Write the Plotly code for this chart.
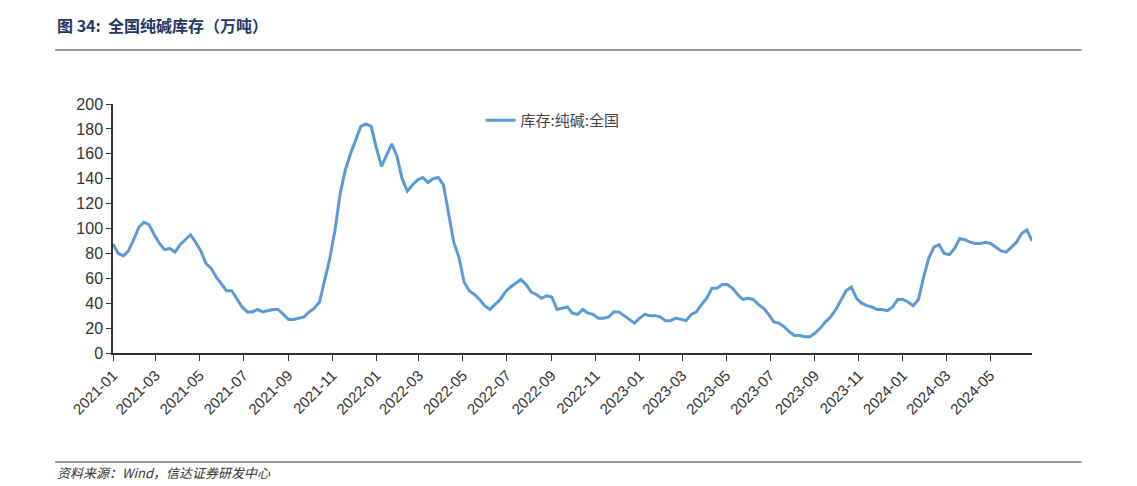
import pandas as pd
import plotly.graph_objects as go

# weekly inventory readings, 2021-01 to 2024-06 (万吨)
inventory = [
    87.5, 80, 78, 82, 91, 101, 105, 103, 95, 88,
    83, 84, 81, 87, 91, 95, 89, 82, 72, 68,
    61, 55, 50, 50, 43, 37, 33, 33, 35, 33,
    34, 35, 35, 31, 27, 27, 28, 29, 33, 36,
    41, 59, 76, 99, 128, 147, 160, 171, 182, 184,
    182, 165, 150, 159, 168, 158, 140, 130, 135, 139,
    141, 137, 140, 141, 135,
    112, 89, 77, 57, 50, 47, 43, 38, 35, 39,
    43, 49, 53, 56, 59, 55, 49, 47, 44, 46,
    45, 35, 36, 37, 32, 31, 35, 32, 31, 28,
    28, 29, 33, 33, 30, 27, 24, 28, 31, 30,
    30, 29, 26, 26, 28, 27, 26, 31, 33, 39,
    44, 52, 52, 55, 55, 52, 47,
    43, 44, 43, 39, 36, 31, 25, 24, 21, 17,
    14, 14, 13, 13, 16, 20, 25, 29, 35, 43,
    50, 53, 44, 40, 38, 37, 35, 35, 34, 37,
    43, 43, 41, 38, 43, 61, 76, 85, 87, 80,
    79, 84, 92, 91, 89, 88, 88, 89, 88, 85,
    82, 81, 85, 89, 96, 99, 90,
]
dates = pd.date_range("2021-01-01", "2024-06-28", periods=len(inventory))
tick_dates = pd.date_range("2021-01-01", "2024-05-01", freq="2MS")
y_ticks = list(range(0, 201, 20))

fig = go.Figure(go.Scatter(
    x=dates, y=inventory, mode="lines", name="库存:纯碱:全国",
    line=dict(color="#5B9BD5", width=3),
))

fig.update_layout(
    width=1137, height=486,
    margin=dict(l=105, r=113, t=96, b=141),
    paper_bgcolor="white", plot_bgcolor="white",
    font=dict(family="Liberation Sans, Noto Sans CJK SC", size=15, color="#333"),
    showlegend=True,
    legend=dict(x=0.4, y=1.0, xanchor="left", yanchor="top", orientation="h",
                font=dict(family="Noto Sans CJK SC", size=15, color="#444")),
    xaxis=dict(
        range=[dates[0], dates[-1]], tickvals=tick_dates, tickformat="%Y-%m",
        tickangle=-45, ticks="outside", ticklen=6, tickcolor="#333",
        showline=True, linecolor="#333", linewidth=1.5, showgrid=False,
        tickfont=dict(size=15, color="#333"),
    ),
    yaxis=dict(
        range=[0, 200], tickvals=y_ticks, ticks="outside", ticklen=5,
        tickcolor="#333", showline=True, linecolor="#333", linewidth=1.5,
        showgrid=False, tickfont=dict(size=16, color="#333"),
    ),
    shapes=[
        dict(type="line", xref="paper", yref="paper", x0=-0.063, x1=1.054,
             y0=1.217, y1=1.217, line=dict(color="#333", width=1)),
        dict(type="line", xref="paper", yref="paper", x0=-0.063, x1=1.054,
             y0=-0.438, y1=-0.438, line=dict(color="#333", width=1)),
    ],
    annotations=[
        dict(text="<b>图 34:  全国纯碱库存（万吨）</b>", xref="paper", yref="paper",
             x=-0.063, y=1.317, xanchor="left", yanchor="middle", showarrow=False,
             font=dict(family="Noto Sans CJK SC", size=16, color="#1F3864")),
        dict(text="<i>资料来源：Wind，信达证券研发中心</i>", xref="paper", yref="paper",
             x=-0.063, y=-0.478, xanchor="left", yanchor="middle", showarrow=False,
             font=dict(family="Noto Sans CJK SC", size=13, color="#333")),
    ],
)

fig.write_html("out.html")
